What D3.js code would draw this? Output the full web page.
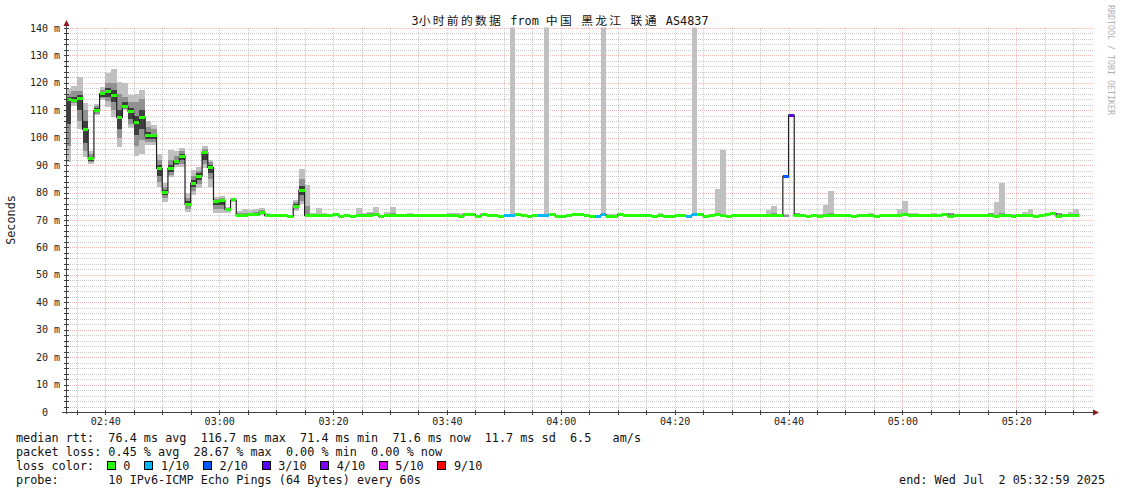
<!DOCTYPE html>
<html><head><meta charset="utf-8">
<script src="https://cdn.jsdelivr.net/npm/d3@7/dist/d3.min.js"></script>
<style>
html,body{margin:0;padding:0;background:#fff;}
svg{display:block;}
text{font-family:"DejaVu Sans Mono",monospace;white-space:pre;}
</style></head><body>
<svg id="chart" width="1121" height="494"></svg>
<script>
// ---------------- DATA ----------------
const titleText = "3小时前的数据 from 中国 黑龙江 联通 AS4837";
const yAxisTitle = "Seconds";
const creditText = "RRDTOOL / TOBI OETIKER";
const yTickValues = [0,10,20,30,40,50,60,70,80,90,100,110,120,130,140];
const yTickLabels = ["0  ","10 m","20 m","30 m","40 m","50 m","60 m","70 m","80 m","90 m","100 m","110 m","120 m","130 m","140 m"];
const xTickLabels = ["02:40","03:00","03:20","03:40","04:00","04:20","04:40","05:00","05:20"];
const timeStart = [2025,6,2,2,32,59];
const timeEnd   = [2025,6,2,5,32,59];
const firstStep = [2025,6,2,2,33,0];   // one sample per minute from here

// median RTT per minute (ms)
const median = [
 113.9,113.7,114.4,103.0,92.5,110.0,116.0,116.7,115.5,107.3,
 111.3,109.5,105.5,107.3,100.7,100.7,88.8,80.1,88.8,91.4,
 93.3,75.8,83.4,86.0,94.6,89.1,76.8,77.2,73.9,77.3,
 71.7,71.7,71.9,71.9,72.8,71.7,71.7,71.7,71.7,71.4,
 75.1,80.8,71.7,71.7,71.7,71.7,71.7,72.1,71.4,71.7,
 71.4,71.7,71.7,71.7,72.1,71.4,71.7,71.7,71.7,71.7,
 71.7,71.7,71.7,71.7,71.7,71.7,71.7,71.7,71.7,71.4,
 72.1,72.1,71.4,72.1,71.7,71.7,71.4,71.7,71.7,72.1,
 71.7,71.4,71.7,71.7,71.7,72.1,71.4,71.4,71.7,72.1,
 72.1,71.7,71.4,71.4,71.9,71.4,71.4,72.1,71.7,71.7,
 71.7,71.7,71.7,71.4,71.7,71.4,71.4,71.7,71.7,71.4,
 71.9,72.1,71.4,71.7,72.1,71.7,71.4,71.7,71.7,71.7,
 71.7,71.7,71.7,71.7,71.7,71.7,85.9,108.2,71.7,71.7,
 71.4,71.7,71.4,71.7,71.7,71.7,71.7,71.7,71.4,71.7,
 71.7,71.7,71.4,71.7,71.7,71.7,71.7,72.1,71.7,71.7,
 71.7,71.7,71.7,71.7,72.1,71.4,71.7,71.7,71.7,71.7,
 71.7,71.7,71.7,71.4,71.7,71.7,71.4,71.7,71.7,71.7,
 71.4,71.7,72.1,72.3,71.4,71.7,71.7,71.6
];
// lost pings out of 10 per minute
const lossTenths = [
 0,0,0,0,0,0,0,0,0,0, 0,0,0,0,0,0,0,0,0,0, 0,0,0,0,0,0,0,0,0,0,
 0,0,0,0,0,0,0,0,0,0, 0,0,0,0,0,0,0,0,0,0, 0,0,0,0,0,0,0,0,0,0,
 0,0,0,0,0,0,0,0,0,0, 0,0,0,0,0,0,0,1,1,0, 0,0,0,1,1,0,0,0,0,0,
 0,0,0,1,1,0,0,0,0,0, 0,0,0,0,0,0,0,0,0,1, 1,0,0,0,0,0,0,0,0,0,
 0,0,0,0,0,0,2,3,0,0, 0,0,0,0,0,0,0,0,0,0, 0,0,0,0,0,0,0,0,0,0,
 0,0,0,0,0,0,0,0,0,0, 0,0,0,0,0,0,0,0,0,0, 0,0,0,0,0,0,0,0
];
// smoke: sorted ping bands (outer lo1/hi1, middle lo2/hi2, inner lo3/hi3)
const lo1 = [
 91.3,111.5,103,93,90.5,108.3,113.7,111.1,107.5,96.7,
 110,103.4,93.3,94,97.3,97.3,82,76.7,85.8,89.4,
 89.4,73,79.1,81.5,88.8,81.9,72.4,72.4,72.7,76.7,
 71.3,71.3,71.4,71.4,71.9,71.3,71.3,71.3,71.3,71.0,
 73.4,75.8,71.3,71.3,71.3,71.3,71.3,71.7,71.0,71.3,
 71.0,71.3,71.3,71.3,71.7,71.0,71.3,71.3,71.3,71.3,
 71.3,71.3,71.3,71.3,71.3,71.3,71.3,71.3,71.3,71.0,
 71.7,71.7,71.0,71.7,71.3,71.3,71.0,71.3,71.3,71.7,
 71.3,71.0,71.3,71.3,71.3,71.7,71.0,71.0,71.3,71.7,
 71.7,71.3,71.0,71.0,71.5,71.0,71.0,71.7,71.3,71.3,
 71.3,71.3,71.3,71.0,71.3,71.0,71.0,71.3,71.3,71.0,
 71.5,71.7,71.0,71.3,71.7,71.3,71.0,71.3,71.3,71.3,
 71.3,71.3,71.3,71.3,71.3,71.3,71.0,108.0,71.3,71.3,
 71.0,71.3,71.0,71.3,71.3,71.3,71.3,71.3,71.0,71.3,
 71.3,71.3,71.0,71.3,71.3,71.3,71.3,71.7,71.3,71.3,
 71.3,71.3,71.3,71.3,71.7,71.0,71.3,71.3,71.3,71.3,
 71.3,71.3,71.3,71.0,71.3,71.3,71.0,71.3,71.3,71.3,
 71.0,71.3,71.7,71.9,71.0,71.3,71.3,71.2
];
const lo2 = [
 97,112.5,106,95,91,108.8,114.5,113.5,110,100,
 110.4,105,97,99,98.5,98.5,84,78,86.5,90,
 90.5,74,80.5,83,90.5,85,74,74,73.1,76.9,
 71.4,71.4,71.5,71.5,72.2,71.4,71.4,71.4,71.4,71.1,
 74,77,71.4,71.4,71.4,71.4,71.4,71.8,71.1,71.4,
 71.1,71.4,71.4,71.4,71.8,71.1,71.4,71.4,71.4,71.4,
 71.4,71.4,71.4,71.4,71.4,71.4,71.4,71.4,71.4,71.1,
 71.8,71.8,71.1,71.8,71.4,71.4,71.1,71.4,71.4,71.8,
 71.4,71.1,71.4,71.4,71.4,71.8,71.1,71.1,71.4,71.8,
 71.8,71.4,71.1,71.1,71.6,71.1,71.1,71.8,71.4,71.4,
 71.4,71.4,71.4,71.1,71.4,71.1,71.1,71.4,71.4,71.1,
 71.6,71.8,71.1,71.4,71.8,71.4,71.1,71.4,71.4,71.4,
 71.4,71.4,71.4,71.4,71.4,71.4,71.1,108.05,71.4,71.4,
 71.1,71.4,71.1,71.4,71.4,71.4,71.4,71.4,71.1,71.4,
 71.4,71.4,71.1,71.4,71.4,71.4,71.4,71.8,71.4,71.4,
 71.4,71.4,71.4,71.4,71.8,71.1,71.4,71.4,71.4,71.4,
 71.4,71.4,71.4,71.1,71.4,71.4,71.1,71.4,71.4,71.4,
 71.1,71.4,71.8,72.0,71.1,71.4,71.4,71.3
];
const lo3 = [
 105,113,110,98,91.5,109.2,115,115,113,103,
 110.8,107,101,103,99.5,99.5,86,79,87.5,90.5,
 92,75,82,84.5,92,87,75.5,75.5,73.5,77,
 71.55,71.55,71.7,71.7,72.5,71.55,71.55,71.55,71.55,71.25,
 74.6,79,71.55,71.55,71.55,71.55,71.55,71.95,71.25,71.55,
 71.25,71.55,71.55,71.55,71.95,71.25,71.55,71.55,71.55,71.55,
 71.55,71.55,71.55,71.55,71.55,71.55,71.55,71.55,71.55,71.25,
 71.95,71.95,71.25,71.95,71.55,71.55,71.25,71.55,71.55,71.95,
 71.55,71.25,71.55,71.55,71.55,71.95,71.25,71.25,71.55,71.95,
 71.95,71.55,71.25,71.25,71.75,71.25,71.25,71.95,71.55,71.55,
 71.55,71.55,71.55,71.25,71.55,71.25,71.25,71.55,71.55,71.25,
 71.75,71.95,71.25,71.55,71.95,71.55,71.25,71.55,71.55,71.55,
 71.55,71.55,71.55,71.55,71.55,71.55,71.3,108.1,71.55,71.55,
 71.25,71.55,71.25,71.55,71.55,71.55,71.55,71.55,71.25,71.55,
 71.55,71.55,71.25,71.55,71.55,71.55,71.55,71.95,71.55,71.55,
 71.55,71.55,71.55,71.55,71.95,71.25,71.55,71.55,71.55,71.55,
 71.55,71.55,71.55,71.25,71.55,71.55,71.25,71.55,71.55,71.55,
 71.25,71.55,71.95,72.15,71.25,71.55,71.55,71.45
];
const hi3 = [
 115,115,115.5,106,93,110.8,116.8,118,117.5,110,
 113,111,108,110,102,101.5,90,81,90,92,
 94,76.8,84.5,87,95.3,90,77,77.5,74.1,77.5,
 71.9,71.9,72.0,72.0,73.0,71.85,71.85,71.85,71.85,71.55,
 75.8,82.5,71.9,71.85,71.85,71.85,71.85,72.25,71.55,71.85,
 71.55,71.85,71.85,71.85,72.25,71.55,71.85,71.85,71.85,71.85,
 71.85,71.85,71.85,71.85,71.85,71.85,71.85,71.85,71.85,71.55,
 72.25,72.25,71.55,72.25,71.85,71.85,71.55,71.85,71.85,72.25,
 71.85,71.55,71.85,71.85,71.85,72.25,71.55,71.55,71.85,72.25,
 72.25,71.85,71.55,71.55,72.05,71.55,71.55,72.25,71.85,71.85,
 71.85,71.85,71.85,71.55,71.85,71.55,71.55,71.85,71.85,71.55,
 72.05,72.25,71.55,71.85,72.25,71.85,71.55,71.85,71.85,71.85,
 71.85,71.85,71.85,71.85,71.85,71.85,71.6,108.3,71.85,71.85,
 71.55,71.85,71.55,71.85,71.85,71.85,71.85,71.85,71.55,71.85,
 71.85,71.85,71.55,71.85,71.85,71.85,71.85,72.25,71.85,71.85,
 71.85,71.85,71.85,71.85,72.25,71.55,71.85,71.85,71.85,71.85,
 71.85,71.85,71.85,71.55,71.85,71.85,71.55,71.85,71.85,71.85,
 71.55,71.85,72.25,72.45,71.55,71.85,71.85,71.75
];
const hi2 = [
 116,117,117,110,94,111.5,117.5,120,120,116,
 115,113,113,114,104,103,92,82,92,93.5,
 95,78,86,88,96,91,77.7,78,74.3,77.7,
 72.4,72.6,72.6,72.8,73.8,72.0,72.0,72.0,72.0,71.6,
 76.5,85,75,72.0,72.2,72.1,72.0,72.4,71.7,72.0,
 71.7,72.3,72.1,72.7,72.7,71.7,72.3,72.5,72.0,72.0,
 72.1,72.0,72.0,72.0,72.0,72.0,72.0,72.1,72.1,72.0,
 72.4,72.4,71.7,72.4,72.0,72.0,71.7,72.0,72.1,72.4,
 72.0,71.7,72.0,72.0,72.1,72.4,71.7,71.7,72.0,72.4,
 72.4,72.0,71.8,71.7,72.2,71.9,71.9,72.4,72.0,72.0,
 72.0,72.0,72.0,71.7,72.1,71.7,71.7,72.0,72.0,71.7,
 72.2,72.4,71.7,72.0,72.6,72.3,71.7,72.0,72.0,72.0,
 72.0,72.0,72.1,72.2,72.4,72.0,72.0,108.35,72.4,72.0,
 71.7,72.0,71.9,72.3,72.5,72.0,72.0,72.2,71.7,72.2,
 72.2,72.2,71.7,72.0,72.0,72.0,72.3,72.6,72.2,72.2,
 72.1,72.1,72.2,72.1,72.4,72.4,72.0,72.0,72.0,72.0,
 72.1,72.0,72.4,72.0,72.5,72.0,71.9,72.0,72.3,72.3,
 71.7,72.0,72.5,72.6,72.4,72.1,72.3,72.3
];
const hi1 = [
 117.6,119,122,112.5,95,112.3,118.4,123.7,125,120.2,
 120,115.6,116,117.4,106.2,104.6,94,83.6,95.5,95,
 96.1,79.7,88.2,89.4,97,91.9,78.5,78.7,74.6,78,
 73.4,73.9,73.6,73.9,74.3,72.4,72.2,72.2,72.2,71.8,
 77.3,88.6,82.8,72.4,74.5,72.7,72.2,72.5,71.8,72.2,
 71.8,74.5,72.7,73.0,74.9,71.8,73.0,74.9,72.0,72.0,
 72.7,72.2,72.0,72.0,72.2,72.0,72.0,72.7,72.7,72.7,
 72.7,72.5,71.8,72.5,72.0,72.2,71.8,72.0,150,72.5,
 72.0,71.8,72.0,72.0,150,72.7,71.8,71.8,72.0,72.7,
 72.7,72.2,72.0,71.8,150,72.2,72.2,72.5,72.0,72.2,
 72.2,72.0,72.0,71.8,72.7,71.8,71.8,72.0,72.0,71.8,
 150,72.5,71.8,72.2,81.3,95.5,71.8,72.2,72.0,72.2,
 72.0,72.2,72.3,73.6,75.2,72.2,72.2,108.4,72.4,72.0,
 71.8,72.0,72.2,75.5,80.7,72.0,72.0,72.3,71.8,72.3,
 72.3,72.7,71.8,72.0,72.0,72.0,74.0,77.0,72.7,72.7,
 72.3,72.3,72.7,72.3,72.5,72.4,72.0,72.0,72.0,72.0,
 72.3,72.0,72.4,76.7,83.6,72.0,72.3,72.0,72.9,74.0,
 71.8,72.0,72.6,72.8,72.4,72.3,72.9,74.0
];
const lossLabels = ["0","1/10","2/10","3/10","4/10","5/10","9/10"];
const lossLevels = [0,1,2,3,4,5,9];
const lossColors = ["#26ff00","#00b8ff","#0059ff","#5e00ff","#7e00ff","#dd00ff","#ff0000"];
const legendLines = [
 "median rtt:  76.4 ms avg  116.7 ms max  71.4 ms min  71.6 ms now  11.7 ms sd  6.5   am/s",
 "packet loss: 0.45 % avg  28.67 % max  0.00 % min  0.00 % now",
 "loss color:",
 "probe:       10 IPv6-ICMP Echo Pings (64 Bytes) every 60s"
];
const endText = "end: Wed Jul  2 05:32:59 2025";
const smokeColors = ["#c0c0c0","#919191","#3e3e3e"];

// ---------------- CHART ----------------
const svg = d3.select("#chart");
const mk = a => new Date(a[0],a[1],a[2],a[3],a[4],a[5]);
const x = d3.scaleTime().domain([mk(timeStart), mk(timeEnd)]).range([65.35, 1090.2]);
const y = d3.scaleLinear().domain([0,140]).range([412,28]);
const t0 = mk(firstStep);
const stepT = k => new Date(+t0 + k*60000);
const xs = k => x(stepT(k));
const PL = 66, PR = 1093, PT = 28, PB = 412;
const cr = v => Math.round(v) + 0.5;

svg.append("rect").attr("width",1121).attr("height",494).attr("fill","#fff");
svg.append("defs").append("clipPath").attr("id","plot")
  .append("rect").attr("x",PL).attr("y",PT-0.5).attr("width",PR-PL).attr("height",PB-PT+0.5);

// grid
const gGrid = svg.append("g").attr("shape-rendering","crispEdges");
const minorColor = "rgba(150,150,150,0.5)", majorColor = "rgba(245,90,90,0.42)";
const yMinor = y.ticks(70).filter(v => v > 0 && v % 10 !== 0);
const yMajor = yTickValues.filter(v => v > 0);
const xMinorAll = x.ticks(d3.timeMinute.every(5));
const xMajor = x.ticks(d3.timeMinute.every(20));
const xMinor = xMinorAll.filter(d => d.getMinutes() % 20 !== 0);
gGrid.selectAll(".ym").data(yMinor).join("line")
  .attr("x1",PL).attr("x2",PR).attr("y1",d=>cr(y(d))).attr("y2",d=>cr(y(d)))
  .attr("stroke",minorColor).attr("stroke-dasharray","1,1");
gGrid.selectAll(".xm").data(xMinor).join("line")
  .attr("x1",d=>cr(x(d))).attr("x2",d=>cr(x(d))).attr("y1",PT).attr("y2",PB)
  .attr("stroke",minorColor).attr("stroke-dasharray","1,1");
gGrid.selectAll(".yM").data(yMajor).join("line")
  .attr("x1",PL).attr("x2",PR).attr("y1",d=>cr(y(d))).attr("y2",d=>cr(y(d)))
  .attr("stroke",majorColor).attr("stroke-dasharray","1,1");
gGrid.selectAll(".xM").data(xMajor).join("line")
  .attr("x1",d=>cr(x(d))).attr("x2",d=>cr(x(d))).attr("y1",PT).attr("y2",PB)
  .attr("stroke",majorColor).attr("stroke-dasharray","1,1");

// smoke
const gData = svg.append("g").attr("clip-path","url(#plot)");
const idx = d3.range(median.length);
const bands = [[lo1,hi1],[lo2,hi2],[lo3,hi3]];
bands.forEach((b,bi) => {
  gData.append("g").attr("shape-rendering","crispEdges")
    .selectAll("rect").data(idx).join("rect")
    .attr("x", k => Math.round(xs(k)))
    .attr("width", k => Math.round(xs(k+1)) - Math.round(xs(k)))
    .attr("y", k => Math.round(y(b[1][k])))
    .attr("height", k => Math.max(0, Math.round(y(b[0][k])) - Math.round(y(b[1][k]))))
    .attr("fill", smokeColors[bi]);
});

// median step line
const linePts = idx.map(k => [xs(k), y(median[k])]);
linePts.push([xs(median.length), y(median[median.length-1])]);
gData.append("path").attr("d", d3.line().curve(d3.curveStepAfter)(linePts))
  .attr("fill","none").attr("stroke","#202020").attr("stroke-width",1.2);

// median bars coloured by loss
const colorFor = l => { let i = lossLevels.findIndex(v => l <= v); return lossColors[i < 0 ? lossColors.length-1 : i]; };
gData.append("g").attr("shape-rendering","crispEdges")
  .selectAll("rect").data(idx).join("rect")
  .attr("x", k => Math.round(xs(k)))
  .attr("width", k => Math.round(xs(k+1)) - Math.round(xs(k)))
  .attr("y", k => Math.round(y(median[k]) - 1.5))
  .attr("height", 3)
  .attr("fill", k => colorFor(lossTenths[k]));

// axes
const axisColor = "#404040", arrowColor = "#8b1a1a";
const gAx = svg.append("g").attr("shape-rendering","crispEdges");
gAx.append("line").attr("x1",66.5).attr("x2",66.5).attr("y1",PB+2).attr("y2",24).attr("stroke",axisColor);
gAx.append("line").attr("x1",62).attr("x2",1094).attr("y1",412.5).attr("y2",412.5).attr("stroke",axisColor);
gAx.selectAll(".yt").data(yMinor.concat(yMajor)).join("line")
  .attr("x1",64).attr("x2",69).attr("y1",d=>cr(y(d))).attr("y2",d=>cr(y(d))).attr("stroke",axisColor);
gAx.selectAll(".xt").data(xMinorAll).join("line")
  .attr("x1",d=>cr(x(d))).attr("x2",d=>cr(x(d))).attr("y1",410).attr("y2",415).attr("stroke",axisColor);
svg.append("path").attr("d","M63.5,26 L69.5,26 L66.5,20 Z").attr("fill",arrowColor);
svg.append("path").attr("d","M1093,409.5 L1093,415.5 L1099,412.5 Z").attr("fill",arrowColor);

// tick labels
svg.append("g").selectAll("text").data(yTickValues).join("text")
  .attr("x",60).attr("y",d=>y(d)+3.6).attr("text-anchor","end")
  .attr("font-size",10).attr("fill","#222").attr("xml:space","preserve")
  .text((d,i)=>yTickLabels[i]);
const parseHM = s => { const p = s.split(":").map(Number); return new Date(2025,6,2,p[0],p[1],0); };
svg.append("g").selectAll("text").data(xTickLabels).join("text")
  .attr("x",d=>x(parseHM(d))+0.5).attr("y",425).attr("text-anchor","middle")
  .attr("font-size",10).attr("fill","#222").text(d=>d);

// title
const tt = svg.append("text").attr("x",560).attr("y",25).attr("text-anchor","middle")
  .attr("font-size",11.8).attr("fill","#111").attr("xml:space","preserve");
titleText.split(/([\u4e00-\u9fff]+)/).filter(s=>s.length).forEach(s => {
  const cjk = /[\u4e00-\u9fff]/.test(s);
  const ts = tt.append("tspan").text(s);
  if (cjk) ts.attr("font-family","'Noto Sans CJK SC',sans-serif").attr("letter-spacing",2.3);
});

// y axis title
svg.append("text").attr("transform","translate(14.5,220) rotate(-90)")
  .attr("text-anchor","middle").attr("font-size",11.8).attr("fill","#222").text(yAxisTitle);
// credit
svg.append("text").attr("transform","translate(1107.5,5) rotate(90)")
  .attr("font-size",8.3).attr("fill","#b0b0b0").text(creditText);

// legend
const legY = [442,456,470,484];
svg.append("g").selectAll("text").data(legendLines).join("text")
  .attr("x",16).attr("y",(d,i)=>legY[i]).attr("font-size",11.8).attr("fill","#111")
  .attr("xml:space","preserve").text(d=>d);
let bx = 106.7;
const gLeg = svg.append("g");
lossLabels.forEach((lab,i) => {
  gLeg.append("rect").attr("x",Math.round(bx)+0.5).attr("y",461.5).attr("width",8).attr("height",8)
    .attr("fill",lossColors[i]).attr("stroke","#000").attr("shape-rendering","crispEdges");
  gLeg.append("text").attr("x",bx+16.5).attr("y",470).attr("font-size",11.8).attr("fill","#111").text(lab);
  bx += 17 + (lab.length+2)*6.93;
});
svg.append("text").attr("x",1105).attr("y",484).attr("text-anchor","end")
  .attr("font-size",11.8).attr("fill","#111").attr("xml:space","preserve").text(endText);
</script>
</body></html>
